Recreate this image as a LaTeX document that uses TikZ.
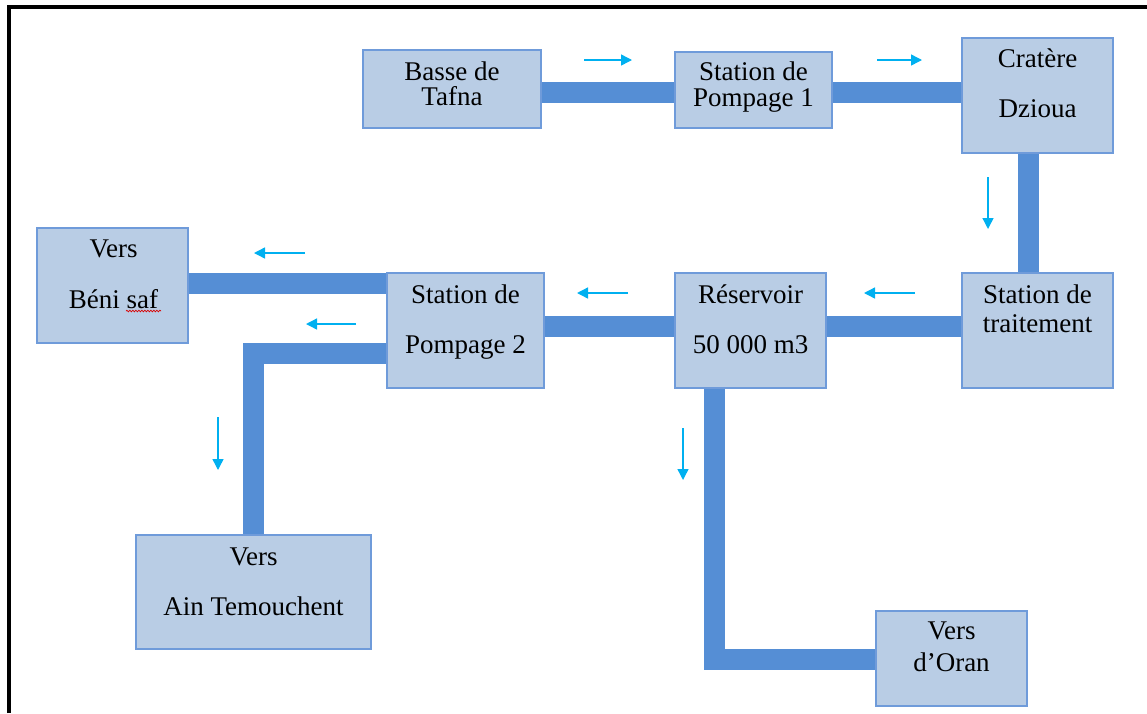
\documentclass[tikz,border=0pt]{standalone}
\usepackage{fontspec}
\setmainfont{Liberation Serif}
\usetikzlibrary{arrows.meta,decorations.pathmorphing}
\definecolor{boxfill}{HTML}{B9CDE5}
\definecolor{boxline}{HTML}{6F9BDA}
\definecolor{pipecol}{HTML}{558ED5}
\definecolor{flowcol}{HTML}{00B0F0}
\pgfdeclarelayer{bg}
\pgfsetlayers{bg,main}
\tikzset{
  stage/.style={draw=boxline, fill=boxfill, line width=1.4pt, inner sep=0pt, rectangle},
  txt/.style={anchor=base, inner sep=0pt, font=\fontsize{27}{31}\selectfont, text=black},
  pipe/.style={draw=pipecol, line width=21pt, line cap=butt, line join=miter},
  flow/.style={draw=flowcol, line width=1.4pt, -{Triangle[length=11pt,width=11pt]}},
}
\begin{document}
\begin{tikzpicture}[x=1pt,y=-1pt]
\useasboundingbox (0,0) rectangle (1147,713);
% frame
\draw[line width=3.6pt] (9,713) -- (9,6.7) -- (1147,6.7);

% stations
\node[stage, minimum width=178pt, minimum height=78pt] (tafna) at (452,89) {};
\node[stage, minimum width=157pt, minimum height=76pt] (pomp1) at (753.5,90) {};
\node[stage, minimum width=151pt, minimum height=115pt] (crat) at (1037.5,95.5) {};
\node[stage, minimum width=151pt, minimum height=115pt] (trait) at (1037.5,330.5) {};
\node[stage, minimum width=151pt, minimum height=115pt] (res) at (750.5,330.5) {};
\node[stage, minimum width=157pt, minimum height=115pt] (pomp2) at (465.5,330.5) {};
\node[stage, minimum width=151pt, minimum height=115pt] (beni) at (112.5,285.5) {};
\node[stage, minimum width=235pt, minimum height=114pt] (ain) at (253.5,592) {};
\node[stage, minimum width=151pt, minimum height=95pt] (oran) at (951.5,658.5) {};

% labels
\node[txt] (l1) at (452,80) {Basse de};
\node[txt] (l2) at (452,105) {Tafna};
\node[txt] (l3) at (753.5,80) {Station de};
\node[txt] (l4) at (753.5,106) {Pompage 1};
\node[txt] (l5) at (1037.5,67) {Cratère};
\node[txt] (l6) at (1037.5,117) {Dzioua};
\node[txt] (l7) at (1037.5,303) {Station de};
\node[txt] (l8) at (1037.5,332) {traitement};
\node[txt] (l9) at (750.5,303) {Réservoir};
\node[txt] (l10) at (750.5,353) {50 000 m3};
\node[txt] (l11) at (465.5,303) {Station de};
\node[txt] (l12) at (465.5,353) {Pompage 2};
\node[txt] (l13) at (113.5,257) {Vers};
\node[txt] (l14) at (113.5,308) {Béni saf};
\node[txt] (l15) at (253.5,565) {Vers};
\node[txt] (l16) at (253.5,615) {Ain Temouchent};
\node[txt] (l17) at (951.5,639) {Vers};
\node[txt] (l18) at (951.5,671) {d’Oran};

% spell-check squiggle under "saf"
\draw[red!85!black, line width=0.7pt, decorate, decoration={snake, segment length=3pt, amplitude=0.8pt}] (126,311) -- (161,311);

% pipes, drawn beneath the stations
\begin{pgfonlayer}{bg}
\draw[pipe] (tafna.east |- 0,92) -- (pomp1.west |- 0,92);
\draw[pipe] (pomp1.east |- 0,92) -- (crat.west |- 0,92);
\draw[pipe] (crat.south -| 1028,0) -- (trait.north -| 1028,0);
\draw[pipe] (trait.west |- 0,326) -- (res.east |- 0,326);
\draw[pipe] (res.west |- 0,326) -- (pomp2.east |- 0,326);
\draw[pipe] (pomp2.west |- 0,283) -- (beni.east |- 0,283);
\draw[pipe] (pomp2.west |- 0,353) -| (ain.north -| 253.5,0);
\draw[pipe] (res.south -| 714.5,0) |- (oran.west |- 0,659);
\end{pgfonlayer}

% flow direction arrows
\draw[flow] (584,60) -- (632,60);
\draw[flow] (877,60) -- (922,60);
\draw[flow] (988,177) -- (988,229);
\draw[flow] (915,293) -- (864,293);
\draw[flow] (628,293) -- (577,293);
\draw[flow] (305,253) -- (254,253);
\draw[flow] (356,324) -- (306,324);
\draw[flow] (218,417) -- (218,470);
\draw[flow] (683,428) -- (683,480);
\end{tikzpicture}
\end{document}
